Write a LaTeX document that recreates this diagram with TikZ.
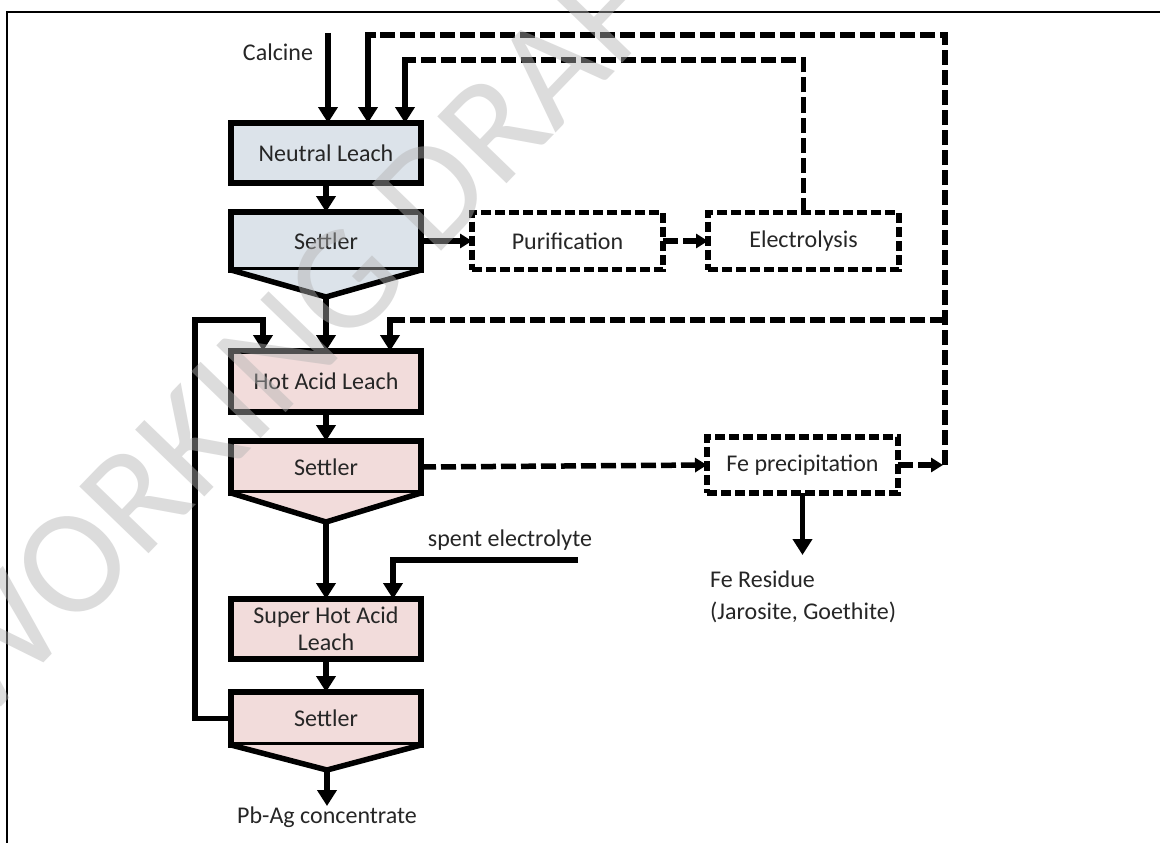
\documentclass[tikz,border=0pt]{standalone}
\usepackage{fontspec}
\setmainfont{Carlito}
\usetikzlibrary{arrows.meta}
\definecolor{nblue}{HTML}{DCE3EA}
\definecolor{hpink}{HTML}{F2DCDB}
\definecolor{txt}{HTML}{262626}
\begin{document}
\begin{tikzpicture}[x=1pt,y=-1pt,
  every node/.style={text=txt,font=\fontsize{24}{27}\selectfont},
  flow/.style={line width=5.5pt,line join=miter},
  dflow/.style={line width=5.5pt,dash pattern=on 15pt off 5pt,line join=miter},
  bigarrow/.style={-{Triangle[width=19pt,length=16pt]}},
  smallarrow/.style={-{Triangle[width=14pt,length=12pt]}},
  proc/.style={draw,line width=6.5pt,outer sep=0pt,minimum width=190pt,inner sep=0pt,align=center},
  dproc/.style={draw,line width=5.5pt,dash pattern=on 10pt off 4pt,outer sep=0pt,minimum width=191pt,minimum height=57pt,inner sep=0pt},
  cone/.style={line width=5.5pt,line join=miter}]
\useasboundingbox (0,0) rectangle (1160,843);
\fill[white] (0,0) rectangle (1160,843);
% frame
\draw[line width=2pt] (7,843) -- (7,12) -- (1160,12);

% boxes
\node[proc,fill=nblue,minimum height=60pt] (nl) at (326,153) {Neutral Leach};
\node[proc,fill=nblue,minimum height=58pt] (s1) at (326,241) {Settler};
\node[proc,fill=hpink,minimum height=61pt] (hal) at (326,381.5) {Hot Acid Leach};
\node[proc,fill=hpink,minimum height=52pt] (s2) at (326,467) {Settler};
\node[proc,fill=hpink,minimum height=60pt,font=\fontsize{24}{27}\selectfont] (shal) at (326,629) {Super Hot Acid\\Leach};
\node[proc,fill=hpink,minimum height=53pt] (s3) at (326,718.5) {Settler};

\node[dproc] (pur) at (567.5,241) {Purification};
\node[dproc] (elec) at (803.5,241) {Electrolysis};
\node[dproc,minimum height=56pt] (fe) at (802.5,465) {Fe precipitation};

% cones
\coordinate (a1) at (326,297);
\coordinate (a2) at (326,522);
\coordinate (a3) at (327,770);
\fill[nblue] (s1.south west) -- (a1) -- (s1.south east) -- cycle;
\draw[cone] (s1.south west) -- (a1) -- (s1.south east);
\fill[hpink] (s2.south west) -- (a2) -- (s2.south east) -- cycle;
\draw[cone] (s2.south west) -- (a2) -- (s2.south east);
\fill[hpink] (s3.south west) -- (a3) -- (s3.south east) -- cycle;
\draw[cone] (s3.south west) -- (a3) -- (s3.south east);

% labels
\node (calc) at (278,52) {Calcine};
\node (spent) at (510,540) {spent electrolyte};
\node[align=left,anchor=north west,inner sep=0pt,font=\fontsize{24}{32}\selectfont] (feres) at (710,571) {Fe Residue\\(Jarosite, Goethite)};
\node[anchor=north,inner sep=1pt] (pb) at (327,806) {Pb-Ag concentrate};

% coordinates
\coordinate (ct) at (328,33);
\coordinate (c2) at (368,35);
\coordinate (c3) at (405,60);
\coordinate (e1) at (803.5,60);
\coordinate (r1) at (945,35);
\coordinate (r2) at (945,320);
\coordinate (r3) at (945,465);
\coordinate (h1) at (390,320);
\coordinate (l1) at (195,718.5);
\coordinate (l2) at (195,320);
\coordinate (l3) at (263,320);
\coordinate (sp1) at (578,560);
\coordinate (sp2) at (393,560);
\coordinate (fr) at (802.5,555);

% main vertical flow
\draw[flow,bigarrow] (ct) -- (ct |- nl.north);
\draw[flow,bigarrow] (nl.south) -- (s1.north);
\draw[flow,bigarrow] (a1) -- (hal.north);
\draw[flow,bigarrow] (hal.south) -- (s2.north);
\draw[flow,bigarrow] (a2) -- (shal.north);
\draw[flow,bigarrow] (shal.south) -- (s3.north);
\draw[flow,bigarrow] (a3) -- (pb.north);

% side streams
\draw[flow,smallarrow] (s1.east) -- (pur.west);
\draw[dflow,smallarrow] (pur.east) -- (elec.west);
\draw[dflow] (elec.north) -- (e1) -- ([xshift=8pt]c3);
\draw[flow,bigarrow] ([xshift=8pt]c3) -- (c3) -- (c3 |- nl.north);

\draw[dflow,smallarrow] (s2.east) -- (fe.west);
\draw[dflow,smallarrow] (fe.east) -- ([xshift=-2pt]r3);
\draw[dflow] (r3) -- (r1) -- ([xshift=8pt]c2);
\draw[flow,bigarrow] ([xshift=8pt]c2) -- (c2) -- (c2 |- nl.north);
\draw[dflow] (r2) -- ([xshift=8pt]h1);
\draw[flow,bigarrow] ([xshift=8pt]h1) -- (h1) -- (h1 |- hal.north);
\draw[flow,bigarrow] (fe.south) -- (fr);

\draw[flow,bigarrow] (s3.west) -- (l1) -- (l2) -- (l3) -- (l3 |- hal.north);
\draw[flow,bigarrow] (sp1) -- (sp2) -- (sp2 |- shal.north);

% watermark
\node[rotate=46,text=black!30,text opacity=0.45,font=\fontsize{150}{150}\selectfont] (wm) at (313,315) {WORKING DRAFT};
\end{tikzpicture}
\end{document}
